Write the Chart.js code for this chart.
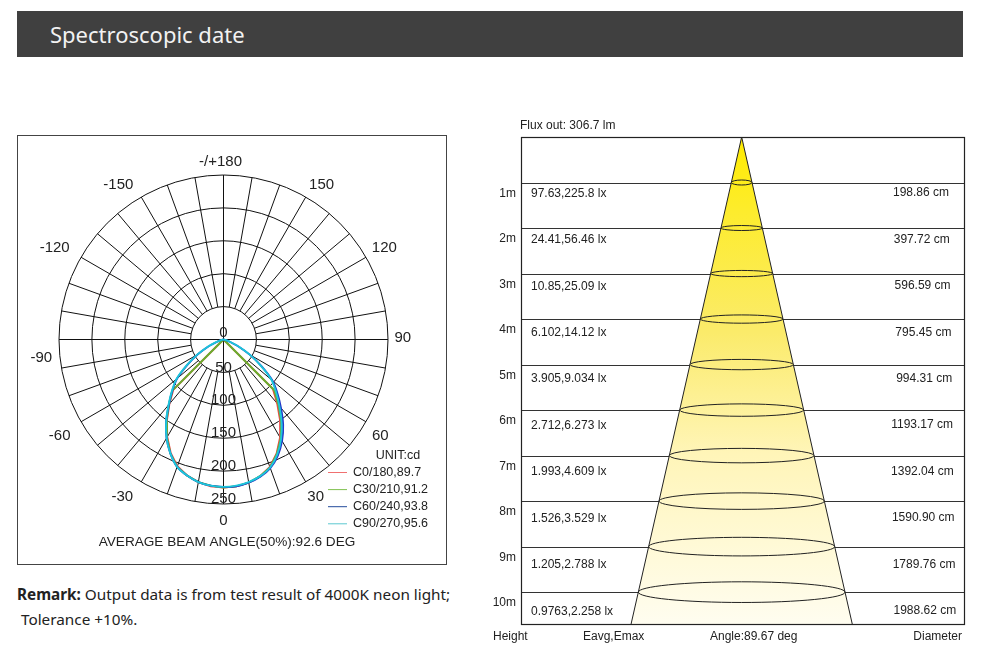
<!DOCTYPE html>
<html>
<head>
<meta charset="utf-8">
<title>Spectroscopic date</title>
<script src="https://cdn.jsdelivr.net/npm/chart.js@4.4.0/dist/chart.umd.min.js"></script>
<style>
	html, body { margin: 0; padding: 0; background: #fff; }
	body { width: 996px; height: 657px; position: relative; overflow: hidden; font-family: "Noto Sans", sans-serif; }
	#head { position: absolute; left: 17px; top: 11px; width: 946px; height: 46px; background: #404040; color: #f2f2f2; font-size: 22px; line-height: 46px; }
	#head span { margin-left: 33px; }
	#polar { position: absolute; left: 17px; top: 135px; }
	#cone { position: absolute; left: 490px; top: 110px; }
	#remark { position: absolute; left: 17px; top: 582px; font-size: 15.3px; line-height: 25px; color: #222; }
</style>
</head>
<body>
<div id="head"><span>Spectroscopic date</span></div>
<canvas id="polar" width="430" height="430"></canvas>
<canvas id="cone" width="480" height="545"></canvas>
<div id="remark"><b>Remark:</b> Output data is from test result of 4000K neon light;<br>&nbsp;Tolerance +10%.</div>

<script>
// ---- polar curve data (cd), gamma -90..90 step 5, negative = left half ----
var gammaAngles = [-90,-85,-80,-75,-70,-65,-60,-55,-50,-45,-40,-35,-30,-25,-20,-15,-10,-5,0,5,10,15,20,25,30,35,40,45,50,55,60,65,70,75,80,85,90];
var c0Values  = [0,0,0,0,0,0,0,0,0,108,128,150,171,190,205,214,220,224,225,224,221,215,206,191,172,150,127,106,0,0,0,0,0,0,0,0,0];
var c30Values = [0,0,0,0,0,0,0,0,0,110,129,151,172,191,206,214,220,223,225,224,221,215,207,192,174,153,130,109,0,0,0,0,0,0,0,0,0];
var c60Values = [0,0,1,4,11,26,45,67,92,110,129,152,173,191,206,214,220,223,224,224,221,216,208,195,178,158,136,116,97,70,46,25,10,3,1,0,0];
var c90Values = [0,0,1,4,12,27,46,68,93,111,130,152,173,191,206,214,220,223,224,223,220,215,207,193,175,154,132,113,95,69,46,26,11,4,1,0,0];
var seriesNames = ['C0/180,89.7', 'C30/210,91.2', 'C60/240,93.8', 'C90/270,95.6'];
var ringValues = [0, 50, 100, 150, 200, 250];
var angleTicks = [0, 30, 60, 90, 120, 150, 180, -150, -120, -90, -60, -30];
var angleTickLabels = ['0', '30', '60', '90', '120', '150', '-/+180', '-150', '-120', '-90', '-60', '-30'];

// ---- cone table data ----
var heights = [1, 2, 3, 4, 5, 6, 7, 8, 9, 10];
var heightLabels = ['1m', '2m', '3m', '4m', '5m', '6m', '7m', '8m', '9m', '10m'];
var eavg = [97.63, 24.41, 10.85, 6.102, 3.905, 2.712, 1.993, 1.526, 1.205, 0.9763];
var emax = [225.8, 56.46, 25.09, 14.12, 9.034, 6.273, 4.609, 3.529, 2.788, 2.258];
var diameters = [198.86, 397.72, 596.59, 795.45, 994.31, 1193.17, 1392.04, 1590.90, 1789.76, 1988.62];

var chartFont = '"Liberation Sans", Arial, sans-serif';
var seriesColors = ['#f04646', '#66b030', '#2238c8', '#1cc6da'];
var legendColors = ['#f07070', '#80c050', '#244c9c', '#5cc8d0'];

function toXY(values) {
	return values.map(function(v, i) {
		var a = gammaAngles[i] * Math.PI / 180;
		return { x: v * Math.sin(a), y: -v * Math.cos(a) };
	});
}

// label nudges (px) matching the reference placement
var angleLabelNudge = {
	'0': [0, -1], '30': [1, 0], '60': [-1, 5], '90': [-3, -2], '120': [3, -1], '150': [7, 3],
	'180': [-3, 5], '-150': [-14, 3], '-120': [-11, -1], '-90': [0, 18], '-60': [-6, 5], '-30': [-10, 0]
};

var polarGrid = {
	id: 'polarGrid',
	beforeDatasetsDraw: function(chart) {
		var ctx = chart.ctx, xs = chart.scales.x, ys = chart.scales.y;
		var cx = xs.getPixelForValue(0), cy = ys.getPixelForValue(0);
		var px = function(r) { return xs.getPixelForValue(r) - cx; };
		var rMax = ringValues[ringValues.length - 1];
		var rMin = ringValues[1];
		ctx.save();
		ctx.strokeStyle = '#111';
		ctx.lineWidth = 1;
		ringValues.slice(1).forEach(function(r) {
			ctx.beginPath();
			ctx.arc(cx, cy, px(r), 0, Math.PI * 2);
			ctx.stroke();
		});
		for (var a = 0; a < 360; a += 10) {
			var t = a * Math.PI / 180;
			var r0 = (a % 90 === 0) ? 0 : rMin;
			ctx.beginPath();
			ctx.moveTo(cx + px(r0) * Math.sin(t), cy + px(r0) * Math.cos(t));
			ctx.lineTo(cx + px(rMax) * Math.sin(t), cy + px(rMax) * Math.cos(t));
			ctx.stroke();
		}
		ctx.restore();
	},
	afterDatasetsDraw: function(chart) {
		var ctx = chart.ctx, xs = chart.scales.x, ys = chart.scales.y;
		var cx = xs.getPixelForValue(0), cy = ys.getPixelForValue(0);
		ctx.save();
		ctx.fillStyle = '#222';
		ctx.textAlign = 'center';
		ctx.textBaseline = 'middle';
		ctx.font = '15px ' + chartFont;
		ringValues.forEach(function(r, i) {
			ctx.fillText(String(r), cx, ys.getPixelForValue(-r) - (i === 0 ? 7 : 5));
		});
		var labelR = 277;
		angleTicks.forEach(function(a, i) {
			var t = a * Math.PI / 180;
			var n = angleLabelNudge[String(a)] || [0, 0];
			var x = xs.getPixelForValue(labelR * Math.sin(t)) + n[0];
			var y = ys.getPixelForValue(-labelR * Math.cos(t)) + n[1];
			ctx.fillText(angleTickLabels[i], x, y);
		});

		// legend
		ctx.font = '12.5px ' + chartFont;
		ctx.fillText('UNIT:cd', 381, 321);
		ctx.textAlign = 'left';
		chart.data.datasets.forEach(function(ds, i) {
			var y = 337.5 + i * 17.1;
			ctx.strokeStyle = legendColors[i];
			ctx.lineWidth = 1;
			ctx.beginPath();
			ctx.moveTo(311, y);
			ctx.lineTo(330, y);
			ctx.stroke();
			ctx.fillStyle = '#222';
			ctx.fillText(ds.label, 336, y);
		});

		ctx.textAlign = 'center';
		ctx.font = '13.6px ' + chartFont;
		ctx.fillText('AVERAGE BEAM ANGLE(50%):92.6 DEG', 210, 407.5);

		ctx.strokeStyle = '#444';
		ctx.lineWidth = 1;
		ctx.strokeRect(0.5, 0.5, chart.width - 1, chart.height - 1);
		ctx.restore();
	}
};

var seriesValues = [c0Values, c30Values, c60Values, c90Values];
var polarChart = new Chart(document.getElementById('polar'), {
	type: 'scatter',
	data: {
		datasets: seriesNames.map(function(name, i) {
			return {
				label: name,
				data: toXY(seriesValues[i]),
				showLine: true,
				borderColor: seriesColors[i],
				borderWidth: 1.9,
				pointRadius: 0,
				tension: i < 2 ? 0 : 0.25,
				fill: false,
				order: 3 - i
			};
		})
	},
	options: {
		responsive: false,
		animation: false,
		layout: { padding: { left: 42, right: 59, top: 40, bottom: 61 } },
		scales: {
			x: { type: 'linear', min: -250, max: 250, display: false },
			y: { type: 'linear', min: -250, max: 250, display: false }
		},
		plugins: { legend: { display: false }, tooltip: { enabled: false } }
	},
	plugins: [polarGrid]
});

// ---- cone chart ----
var coneDepth = 10.7;
var lastD = diameters[diameters.length - 1];
var lastH = heights[heights.length - 1];
var coneEdge = lastD / 2 * coneDepth / lastH;
var conePoints = [{ x: -coneEdge, y: coneDepth }];
for (var i = heights.length - 1; i >= 0; i--) conePoints.push({ x: -diameters[i] / 2, y: heights[i] });
conePoints.push({ x: 0, y: 0 });
for (var j = 0; j < heights.length; j++) conePoints.push({ x: diameters[j] / 2, y: heights[j] });
conePoints.push({ x: coneEdge, y: coneDepth });

var coneTable = {
	id: 'coneTable',
	beforeDatasetsDraw: function(chart) {
		var ctx = chart.ctx, area = chart.chartArea, ys = chart.scales.y;
		ctx.save();
		ctx.strokeStyle = '#333';
		ctx.lineWidth = 1.2;
		heights.forEach(function(h) {
			var y = Math.round(ys.getPixelForValue(h)) + 0.5;
			ctx.beginPath();
			ctx.moveTo(area.left, y);
			ctx.lineTo(area.right, y);
			ctx.stroke();
		});
		ctx.restore();
	},
	afterDatasetsDraw: function(chart) {
		var ctx = chart.ctx, area = chart.chartArea, xs = chart.scales.x, ys = chart.scales.y;
		var cx = xs.getPixelForValue(0);
		ctx.save();
		ctx.strokeStyle = '#222';
		ctx.lineWidth = 1;
		heights.forEach(function(h, i) {
			var rx = xs.getPixelForValue(diameters[i] / 2) - cx;
			var ry = Math.max(2.5, rx * 0.1);
			ctx.beginPath();
			ctx.ellipse(cx, ys.getPixelForValue(h), rx, ry, 0, 0, Math.PI * 2);
			ctx.stroke();
		});
		ctx.strokeStyle = '#222';
		ctx.lineWidth = 1.2;
		ctx.strokeRect(Math.round(area.left) + 0.5, Math.round(area.top) + 0.5, Math.round(area.right - area.left), Math.round(area.bottom - area.top));

		ctx.fillStyle = '#222';
		ctx.font = '12px ' + chartFont;
		ctx.textBaseline = 'middle';
		heights.forEach(function(h, i) {
			var y = ys.getPixelForValue(h);
			ctx.textAlign = 'right';
			ctx.fillText(heightLabels[i], area.left - 5, y + 11);
			ctx.fillText(diameters[i].toFixed(2) + ' cm', area.right - 15 + 0.8 * i, y + 10.5 + 0.9 * i);
			ctx.textAlign = 'left';
			ctx.fillText(eavg[i] + ',' + emax[i] + ' lx', area.left + 10, y + 11 + 0.9 * i);
		});
		ctx.textAlign = 'left';
		ctx.fillText('Flux out: 306.7 lm', area.left - 1, area.top - 11);
		var by = area.bottom + 13;
		ctx.fillText('Height', 3, by);
		ctx.fillText('Eavg,Emax', 93, by);
		ctx.fillText('Angle:89.67 deg', 220, by);
		ctx.textAlign = 'right';
		ctx.fillText('Diameter', area.right - 2, by);
		ctx.restore();
	}
};

var coneChart = new Chart(document.getElementById('cone'), {
	type: 'scatter',
	data: {
		datasets: [{
			label: 'cone',
			data: conePoints,
			showLine: true,
			fill: 'shape',
			borderColor: '#222',
			borderWidth: 1,
			pointRadius: 0,
			tension: 0,
			backgroundColor: function(context) {
				var chart = context.chart, area = chart.chartArea;
				if (!area) return '#fff6a0';
				var g = chart.ctx.createLinearGradient(0, area.top, 0, area.bottom);
				g.addColorStop(0, '#ffec00');
				g.addColorStop(0.15, '#fdec2c');
				g.addColorStop(0.4, '#fbeb6a');
				g.addColorStop(0.65, '#fff5b8');
				g.addColorStop(1, '#fffdf0');
				return g;
			}
		}]
	},
	options: {
		responsive: false,
		animation: false,
		layout: { padding: { left: 31, top: 27, right: 6, bottom: 31 } },
		scales: {
			x: { type: 'linear', min: -2123, max: 2139, display: false },
			y: { type: 'linear', min: 0, max: coneDepth, reverse: true, display: false }
		},
		plugins: { legend: { display: false }, tooltip: { enabled: false } }
	},
	plugins: [coneTable]
});
</script>
</body>
</html>
